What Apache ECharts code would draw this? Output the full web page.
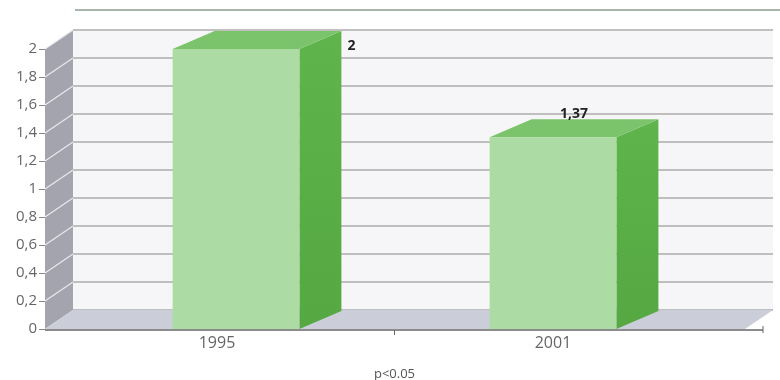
<!DOCTYPE html>
<html>
<head>
<meta charset="utf-8">
<script src="https://cdn.jsdelivr.net/npm/echarts@6/dist/echarts.min.js"></script>
<style>
  html, body { margin: 0; padding: 0; background: #ffffff; }
  #chart { width: 780px; height: 380px; }
</style>
</head>
<body>
<div id="chart"></div>
<script>
// ---- data ----
const categories = ['1995', '2001'];
const values = [2, 1.37];
const yMin = 0, yMax = 2, yStep = 0.2;
const xAxisName = 'p<0.05';
// where each value label sits relative to its box
const labelSpots = ['right', 'top'];

// ---- layout / styling ----
const W = 780, H = 380;
const FRONT = { left: 77.5, right: 68.5, top: 49, bottom: 51 };
const WALL_X = 45;            // front edge of the left wall
const DEPTH = [28, -19];      // wall / floor depth offset
const BAR_DEPTH = [42, -18];  // box depth offset
const BAR_RATIO = 0.4;
const FONT = '"Open Sans", "DejaVu Sans", sans-serif';
const comma = v => String(+(+v).toFixed(2)).replace('.', ',');

const chart = echarts.init(document.getElementById('chart'), null, { renderer: 'canvas' });

const backGrid = {
  left: WALL_X + DEPTH[0],
  right: 7,
  top: FRONT.top + DEPTH[1],
  bottom: FRONT.bottom - DEPTH[1]
};

chart.setOption({
  animation: false,
  backgroundColor: '#ffffff',
  grid: [
    Object.assign({}, FRONT, { containLabel: false, outerBoundsMode: 'none' }),
    Object.assign({}, backGrid, { show: true, backgroundColor: '#f6f6f8', borderWidth: 0,
                                  containLabel: false, outerBoundsMode: 'none' })
  ],
  xAxis: [
    {
      type: 'category', gridIndex: 0, data: categories,
      axisLine: { show: false }, axisTick: { show: false },
      axisLabel: {
        margin: 6, color: '#666', fontSize: 16, fontFamily: FONT,
        formatter: (v, i) => i === 0 ? '{s|' + v + '}' : v,
        rich: { s: { padding: [0, 38, 0, 0], color: '#666', fontSize: 16, fontFamily: FONT } }
      },
      name: xAxisName, nameLocation: 'middle', nameGap: 39,
      nameTextStyle: { color: '#555', fontSize: 13, fontFamily: FONT }
    },
    { type: 'category', gridIndex: 1, data: categories, show: false }
  ],
  yAxis: [
    {
      type: 'value', gridIndex: 0, min: yMin, max: yMax, interval: yStep,
      offset: FRONT.left - WALL_X,
      axisLine: { show: false },
      axisTick: { show: true, length: 6, lineStyle: { color: '#888' } },
      axisLabel: { margin: 8, color: '#666', fontSize: 15, fontFamily: FONT, formatter: comma },
      splitLine: { show: false }
    },
    {
      type: 'value', gridIndex: 1, min: yMin, max: yMax, interval: yStep,
      axisLine: { show: false }, axisTick: { show: false }, axisLabel: { show: false },
      splitLine: { show: true, lineStyle: { color: '#acacac', width: 1.6 } }
    }
  ],
  series: [{
    type: 'custom',
    xAxisIndex: 0, yAxisIndex: 0,
    z: 5,
    data: values.map((v, i) => [i, v]),
    renderItem(params, api) {
      const idx = api.value(0), v = api.value(1);
      const base = api.coord([idx, 0]);
      const top = api.coord([idx, v]);
      const w = api.size([1, 0])[0] * BAR_RATIO;
      const x0 = base[0] - w / 2, x1 = base[0] + w / 2;
      const yb = base[1], yt = top[1];
      const [dx, dy] = BAR_DEPTH;
      const spot = labelSpots[params.dataIndex];
      const lx = spot === 'right' ? x1 + dx + 6 : (x0 + x1) / 2 + dx / 2;
      const ly = spot === 'right' ? yt - 3 : yt + dy - 5;
      return {
        type: 'group',
        children: [
          { type: 'polygon', shape: { points: [[x1, yt], [x1 + dx, yt + dy], [x1 + dx, yb + dy], [x1, yb]] },
            style: { fill: new echarts.graphic.LinearGradient(0, 0, 0, 1, [
              { offset: 0, color: '#5fb44b' }, { offset: 1, color: '#55a842' }]) } },
          { type: 'polygon', shape: { points: [[x0, yt], [x0 + dx, yt + dy], [x1 + dx, yt + dy], [x1, yt]] },
            style: { fill: '#7cc46c' } },
          { type: 'rect', shape: { x: x0, y: yt, width: w, height: yb - yt },
            style: { fill: '#acdca3' } },
          { type: 'text', x: lx, y: ly,
            style: { text: comma(v), fill: '#222', fontSize: 14, fontWeight: 'bold', fontFamily: FONT,
                     align: spot === 'right' ? 'left' : 'center', verticalAlign: 'middle' } }
        ]
      };
    }
  }]
});

// ---- walls, floor and baseline, placed from the value scale ----
const yPix = v => chart.convertToPixel({ yAxisIndex: 0 }, v);
const y0 = yPix(yMin), yTop = yPix(yMax);
const backLeft = backGrid.left, backRight = W - backGrid.right;
const frontRight = backRight - DEPTH[0];
const ticks = [];
for (let t = yMin; t <= yMax + 1e-9; t += yStep) ticks.push(+t.toFixed(2));

const xc0 = chart.convertToPixel({ xAxisIndex: 0 }, categories[0]);
const xc1 = chart.convertToPixel({ xAxisIndex: 0 }, categories[1]);

const g = [
  { type: 'line', z: 1, shape: { x1: 75, y1: 10, x2: W, y2: 10 }, style: { stroke: '#a8b6a8', lineWidth: 2 } },
  // left wall
  { type: 'polygon', z: 1, shape: { points: [[WALL_X, y0], [WALL_X, yTop], [backLeft, yTop + DEPTH[1]], [backLeft, y0 + DEPTH[1]]] },
    style: { fill: '#a4a4ae' } },
  // floor
  { type: 'polygon', z: 1, shape: { points: [[WALL_X, y0], [backLeft, y0 + DEPTH[1]], [backRight, y0 + DEPTH[1]], [frontRight, y0]] },
    style: { fill: '#cbced8' } },
  // baseline
  { type: 'line', z: 2, shape: { x1: WALL_X, y1: y0 + 1, x2: backRight - 10, y2: y0 + 1 }, style: { stroke: '#666', lineWidth: 1.5 } },
  { type: 'line', z: 2, shape: { x1: (xc0 + xc1) / 2, y1: y0 + 1, x2: (xc0 + xc1) / 2, y2: y0 + 6 }, style: { stroke: '#666', lineWidth: 1 } },
  { type: 'line', z: 2, shape: { x1: backRight - 10, y1: y0 - 3, x2: backRight - 10, y2: y0 + 4 }, style: { stroke: '#666', lineWidth: 1 } }
];
ticks.forEach(t => {
  const y = yPix(t);
  if (t > yMin) {
    g.push({ type: 'line', z: 1, shape: { x1: WALL_X, y1: y, x2: backLeft, y2: y + DEPTH[1] },
             style: { stroke: '#e8e8ee', lineWidth: 1.2 } });
  }
});
chart.setOption({ graphic: g });
</script>
</body>
</html>
